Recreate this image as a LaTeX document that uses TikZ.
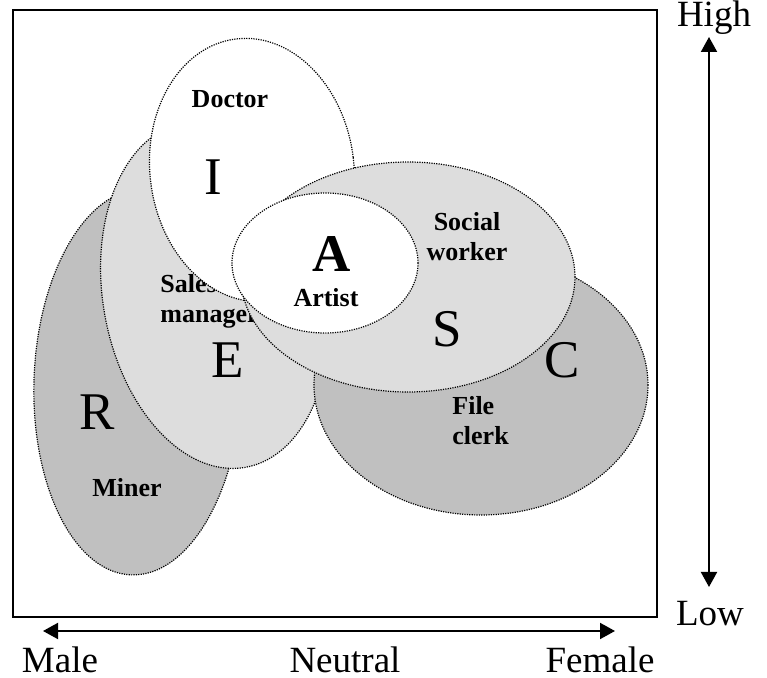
\documentclass[tikz,border=0pt]{standalone}
\usepackage{fontspec}
\setmainfont{Liberation Serif}
\usetikzlibrary{arrows.meta}
\definecolor{lightfill}{RGB}{221,221,221}
\definecolor{darkfill}{RGB}{192,192,192}

\begin{document}
\begin{tikzpicture}[x=0.5pt,y=-0.5pt,
  region/.style={draw=black, line width=0.6pt, dash pattern=on 0.6pt off 0.6pt},
  big/.style={anchor=base, inner sep=0pt, font=\fontsize{26.5}{30}\selectfont},
  job/.style={inner sep=0pt, font=\bfseries\fontsize{13}{15}\selectfont},
  axislabel/.style={anchor=base, inner sep=0pt, font=\fontsize{18.5}{22}\selectfont},
  scalearrow/.style={line width=1pt, {Triangle[length=7.5pt,width=8pt]}-{Triangle[length=7.5pt,width=8pt]}}]

\useasboundingbox (0,0) rectangle (767,678);
\draw[line width=1pt] (13,10) rectangle (657,617);

% realistic
\draw[region, fill=darkfill] (138,382) ellipse [x radius=104, y radius=193, rotate=-2];
% enterprising
\draw[region, fill=lightfill] (215,295) ellipse [x radius=112, y radius=175, rotate=10];
\node[big] (r) at (97,430) {R};
\node[job, anchor=base] (miner) at (127,497) {Miner};
\node[big] (e) at (228,378) {E};
\node[job, anchor=north west, align=left] (sales) at (160,274) {Sales\\manager};
% conventional
\draw[region, fill=darkfill] (481,385) ellipse [x radius=167, y radius=130];
\node[big] (c) at (562,378) {C};
\node[job, anchor=north west, align=left] (clerk) at (452,396) {File\\clerk};
% investigative
\draw[region, fill=white] (252,170) ellipse [x radius=102, y radius=132, rotate=7];
\node[big] (i) at (213,195) {I};
\node[job, anchor=base] (doctor) at (230,108) {Doctor};
% social
\draw[region, fill=lightfill] (408,277) ellipse [x radius=167, y radius=115];
\node[big] (s) at (447,347) {S};
\node[job, anchor=north, align=center] (social) at (467,212) {Social\\worker};
% artistic
\draw[region, fill=white] (325,263) ellipse [x radius=93, y radius=70];
\node[big, font=\bfseries\fontsize{26.5}{30}\selectfont] (a) at (332,272) {A};
\node[job, anchor=base] (artist) at (326,307) {Artist};

% scales
\coordinate (maleend) at (43,631);
\coordinate (femaleend) at (615,631);
\coordinate (highend) at (709,37);
\coordinate (lowend) at (709,587);
\draw[scalearrow] (maleend) -- (femaleend);
\draw[scalearrow] (lowend) -- (highend);
\node[axislabel] (male) at (60,673) {Male};
\node[axislabel] (neutral) at (345,673) {Neutral};
\node[axislabel] (female) at (600,673) {Female};
\node[axislabel] (high) at (714,27) {High};
\node[axislabel] (low) at (710,626) {Low};
\end{tikzpicture}
\end{document}
